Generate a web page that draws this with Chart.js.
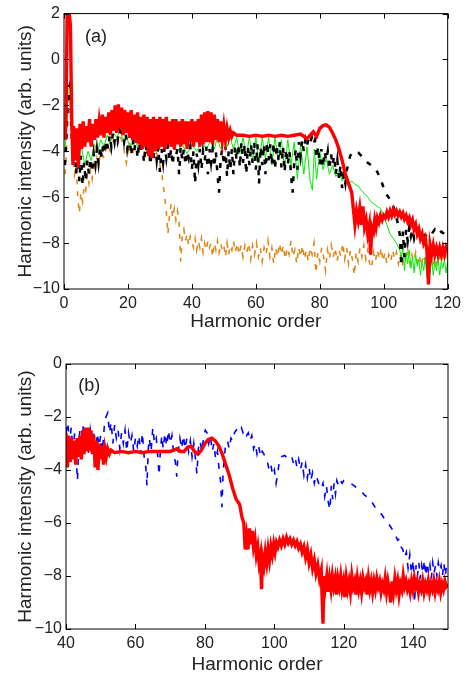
<!DOCTYPE html>
<html>
<head>
<meta charset="utf-8">
<script src="https://cdn.jsdelivr.net/npm/chart.js@4/dist/chart.umd.min.js"></script>
<style>
  body { margin: 0; background: #fff; }
  .panel { position: absolute; left: 0; }
</style>
</head>
<body>
<div class="panel" style="top:0"><canvas id="chartA" width="466" height="333"></canvas></div>
<div class="panel" style="top:333px"><canvas id="chartB" width="466" height="343"></canvas></div>
<script>
// panel (a): [harmonic order, log intensity]
var redA = [[0.3,-3.5],[0.6,-2.8],[1.0,2.2],[1.5,2.2],[2.0,1.5],[2.4,-2.5],[2.8,-4.6],[3,-2.9],[3.5,-4.4],[4,-3.0],[4.5,-4.7],[5,-2.8],[5.5,-3.9],[6,-2.7],[6.5,-3.8],[7,-2.9],[7.5,-3.6],[8,-2.6],[8.5,-3.8],[9,-2.8],[9.5,-3.5],[10,-2.6],[10.5,-3.4],[11,-2.7],[11.5,-3.3],[12,-2.4],[12.5,-3.4],[13,-2.5],[13.5,-3.2],[14,-2.3],[14.5,-3.3],[15,-2.2],[15.5,-3.1],[16,-2.0],[16.5,-3.2],[17,-1.95],[17.5,-3.0],[18,-2.1],[18.5,-3.3],[19,-2.2],[19.5,-3.2],[20,-2.3],[20.5,-3.4],[21,-2.2],[21.5,-3.5],[22,-2.4],[22.5,-3.6],[23,-2.3],[23.5,-3.7],[24,-2.5],[24.5,-3.9],[25,-2.4],[25.5,-3.8],[26,-2.5],[26.5,-4.2],[27,-2.6],[27.5,-4.3],[28,-2.5],[28.5,-4.0],[29,-2.6],[29.5,-3.9],[30,-2.5],[30.5,-3.8],[31,-2.6],[31.5,-3.9],[32,-2.5],[32.5,-3.7],[33,-2.7],[33.5,-3.8],[34,-2.6],[34.5,-3.9],[35,-2.6],[35.5,-3.7],[36,-2.7],[36.5,-3.8],[37,-2.6],[37.5,-3.7],[38,-2.7],[38.5,-3.9],[39,-2.7],[39.5,-3.6],[40,-2.6],[40.5,-3.8],[41,-2.7],[41.5,-3.6],[42,-2.6],[42.5,-3.8],[43,-2.4],[43.5,-3.7],[44,-2.3],[44.5,-3.6],[45,-2.25],[45.5,-3.6],[46,-2.3],[46.5,-3.7],[47,-2.4],[47.5,-3.5],[48,-2.6],[48.5,-3.6],[49,-2.7],[49.5,-3.5],[50,-2.9],[50.5,-3.5],[51,-3.0],[51.5,-3.4],[52,-3.1],[52.5,-3.35],[53,-3.2],[54,-3.3],[56,-3.3],[58,-3.35],[60,-3.3],[62,-3.35],[64,-3.3],[66,-3.35],[68,-3.3],[70,-3.35],[72,-3.3],[74,-3.25],[75,-3.35],[76,-3.45],[77,-3.3],[78,-3.15],[79,-3.35],[80,-3.0],[81,-2.88],[82,-2.85],[83,-2.95],[84,-3.2],[85,-3.5],[86,-3.9],[87,-4.4],[88,-5.0],[89,-5.4],[90,-5.8],[90.5,-6.5],[91,-7.2],[91.5,-6.6],[92,-7.0],[92.5,-6.5],[93,-7.2],[93.5,-6.4],[94,-7.3],[94.5,-7.0],[95,-7.6],[95.5,-7.2],[95.9,-8.5],[96.3,-7.3],[96.8,-7.5],[97.2,-7.0],[97.6,-7.3],[98,-6.9],[98.5,-7.1],[99,-6.8],[99.5,-7.0],[100,-6.8],[100.5,-6.9],[101,-6.65],[101.5,-6.85],[102,-6.6],[102.5,-6.8],[103,-6.55],[103.5,-6.75],[104,-6.6],[104.5,-6.8],[105,-6.65],[105.5,-6.85],[106,-6.7],[106.5,-6.95],[107,-6.8],[107.5,-7.05],[108,-6.9],[108.5,-7.2],[109,-7.0],[109.5,-7.4],[110,-7.2],[110.5,-7.6],[111,-7.4],[111.5,-7.8],[112,-7.6],[112.5,-8.0],[113,-7.8],[113.5,-8.3],[114,-9.8],[114.5,-8.1],[115,-8.5],[115.5,-8.1],[116,-8.5],[116.5,-8.2],[117,-8.5],[117.5,-8.2],[118,-8.5],[118.5,-8.2],[119,-8.5],[119.5,-8.2],[120,-8.4]];

var blackA = [[0.3,-4.6],[0.8,-3.2],[1.3,-1.3],[1.8,-1.1],[2.3,-3.0],[2.8,-4.4],[3.3,-3.6],[3.8,-5.0],[4.3,-3.9],[4.8,-5.3],[5.3,-4.2],[5.8,-5.5],[6.3,-4.5],[6.8,-5.3],[7.3,-4.4],[7.8,-5.0],[8.3,-4.3],[8.8,-4.9],[9.3,-4.1],[9.8,-4.6],[10.3,-3.9],[10.8,-4.5],[11.3,-3.8],[11.8,-4.3],[12.3,-3.6],[12.8,-4.1],[13.3,-3.5],[13.8,-3.9],[14.3,-3.3],[14.8,-3.8],[15.3,-3.2],[15.8,-3.6],[16.3,-3.0],[16.8,-3.5],[17.3,-3.0],[17.8,-3.4],[18.3,-3.1],[18.8,-3.6],[19.3,-3.2],[19.8,-3.9],[20.5,-3.3],[21,-4.2],[21.5,-3.5],[22,-4.0],[22.5,-3.4],[23,-4.3],[23.5,-3.6],[24,-4.1],[24.5,-3.5],[25,-4.5],[25.5,-3.7],[26,-4.2],[26.5,-3.6],[27,-4.6],[27.5,-3.8],[28,-4.3],[28.5,-3.7],[29,-4.4],[29.5,-3.8],[30,-4.9],[30.5,-3.9],[31,-4.5],[31.5,-3.8],[32,-4.3],[32.5,-3.7],[33,-4.4],[33.5,-3.9],[34,-4.6],[34.5,-3.8],[35,-4.2],[35.5,-3.9],[36,-5.0],[36.5,-3.8],[37,-4.4],[37.5,-3.9],[38,-4.6],[38.5,-4.0],[39,-4.3],[39.5,-3.8],[40,-4.8],[40.5,-4.0],[41,-5.4],[41.5,-4.1],[42,-4.6],[42.5,-3.9],[43,-4.8],[43.5,-4.0],[44,-4.4],[44.5,-3.8],[45,-5.0],[45.5,-3.9],[46,-4.5],[46.5,-3.9],[47,-4.7],[47.5,-4.0],[48,-5.0],[48.5,-5.8],[49,-4.3],[49.5,-3.9],[50,-4.6],[50.5,-3.8],[51,-5.1],[51.5,-4.0],[52,-4.8],[52.5,-3.9],[53,-5.0],[53.5,-3.8],[54,-4.4],[54.5,-3.7],[55,-4.7],[55.5,-3.6],[56,-4.5],[56.5,-3.7],[57,-5.0],[57.5,-3.8],[58,-4.6],[58.5,-3.7],[59,-4.5],[59.5,-3.6],[60,-4.8],[60.5,-3.7],[61,-5.4],[61.5,-3.8],[62,-4.6],[62.5,-3.7],[63,-5.0],[63.5,-3.6],[64,-4.4],[64.5,-3.7],[65,-4.6],[65.5,-3.6],[66,-4.8],[66.5,-3.7],[67,-4.4],[67.5,-3.6],[68,-4.7],[68.5,-3.8],[69,-4.9],[69.5,-3.9],[70,-4.6],[70.5,-4.0],[71,-5.0],[71.5,-5.8],[72,-4.5],[72.5,-3.9],[73,-4.8],[73.5,-3.6],[74,-4.2],[74.5,-3.5],[75,-4.0],[75.5,-3.5],[76,-3.8],[76.5,-3.4],[77,-3.6],[77.5,-3.4],[78,-3.7],[78.5,-3.5],[79,-4.3],[79.5,-3.8],[80,-4.6],[80.5,-3.9],[81,-4.7],[81.5,-4.0],[82,-4.4],[82.5,-4.0],[83,-4.8],[83.5,-4.1],[84,-4.6],[84.5,-4.2],[85,-5.0],[85.5,-4.4],[86,-5.2],[86.5,-4.6],[87,-5.6],[87.5,-5.0],[88,-5.4],[88.5,-4.8],[89,-4.5],[89.5,-4.2],[90,-4.1],[91,-4.0],[92,-4.05],[93,-4.2],[94,-4.35],[95,-4.5],[96,-4.6],[97,-4.7],[98,-4.9],[99,-5.2],[100,-5.6],[101,-5.9],[102,-6.1],[103,-6.4],[103.5,-6.6],[104,-6.9],[104.5,-7.2],[105,-7.6],[105.5,-9.0],[106,-7.5],[106.5,-8.6],[107,-7.4],[107.5,-7.9],[108,-7.3],[108.5,-7.7],[109,-7.4],[109.5,-7.8],[110,-7.5],[111,-7.6],[112,-7.4],[113,-7.7],[114,-7.5],[115,-7.6],[116,-7.4],[117,-7.6],[118,-7.5],[119,-7.6],[120,-7.4]];

var greenA = [[0.3,-4.0],[0.8,-3.0],[1.3,-1.3],[1.8,-1.2],[2.3,-2.8],[2.8,-4.0],[3.5,-3.6],[4.5,-4.3],[5.5,-3.8],[6.5,-4.6],[7.5,-4.0],[8.5,-4.4],[9.5,-3.7],[10.5,-4.0],[11.5,-3.5],[12.5,-3.8],[13.5,-3.3],[14.5,-3.6],[15.5,-3.2],[16.5,-3.4],[17.5,-3.1],[18.5,-3.5],[19.5,-3.3],[20.5,-3.8],[22,-3.5],[23.5,-3.9],[25,-3.6],[26.5,-4.1],[28,-3.7],[29.5,-4.0],[31,-3.6],[32.5,-3.9],[34,-3.6],[35.5,-4.0],[37,-3.7],[38.5,-4.1],[40,-3.7],[41.5,-4.0],[43,-3.6],[44.5,-3.9],[46,-3.5],[47,-3.9],[48,-3.4],[49,-3.9],[50,-3.4],[51,-3.8],[52,-3.4],[53,-3.9],[54,-3.4],[55,-4.1],[56,-3.4],[57,-4.2],[58,-3.4],[59,-4.4],[60,-3.4],[61,-4.5],[62,-3.4],[63,-4.3],[64,-3.4],[65,-4.6],[66,-3.4],[67,-4.4],[68,-3.5],[69,-4.8],[70,-3.5],[71,-4.6],[72,-3.6],[73,-5.2],[74,-3.7],[75,-5.0],[76,-3.8],[77,-5.3],[77.7,-5.7],[78.3,-3.9],[79,-5.2],[80,-4.0],[81,-4.8],[82,-4.3],[83,-5.0],[84,-4.6],[85,-5.1],[86,-4.9],[87,-5.3],[88,-5.1],[89,-5.4],[90,-5.3],[91,-5.45],[92,-5.5],[93,-5.7],[94,-5.85],[95,-6.0],[96,-6.2],[97,-6.3],[98,-6.4],[99,-6.5],[100,-6.8],[101,-7.2],[102,-7.6],[103,-7.8],[104,-8.0],[105,-8.3],[105.5,-8.6],[106,-8.2],[106.5,-9.2],[107,-8.4],[107.5,-8.9],[108,-8.3],[108.5,-9.1],[109,-8.6],[109.5,-9.3],[110,-8.5],[110.5,-9.0],[111,-8.7],[111.5,-9.4],[112,-8.8],[112.5,-9.2],[113,-8.6],[113.5,-9.5],[114,-8.9],[114.5,-9.3],[115,-8.7],[115.5,-9.4],[116,-8.8],[116.5,-9.2],[117,-8.6],[117.5,-9.4],[118,-8.8],[118.5,-9.1],[119,-8.7],[119.5,-9.3],[120,-8.8]];

var orangeA = [[0.3,-5.0],[0.8,-4.0],[1.3,-2.0],[1.8,-1.6],[2.3,-3.2],[2.8,-4.2],[3.3,-5.0],[3.8,-4.6],[4.3,-6.0],[4.8,-6.7],[5.3,-5.8],[5.8,-6.2],[6.3,-5.5],[6.8,-5.7],[7.3,-5.0],[7.8,-5.4],[8.3,-4.8],[8.8,-5.2],[9.3,-4.6],[9.8,-4.9],[10.3,-4.3],[10.8,-4.6],[11.5,-4.0],[12.5,-4.3],[13.5,-3.7],[14.5,-4.0],[15.5,-3.5],[16.5,-3.8],[17.5,-3.3],[18.5,-3.7],[19.5,-4.5],[20.5,-3.6],[21.5,-4.1],[22.5,-3.7],[23.5,-4.0],[24.5,-3.6],[25.5,-4.2],[26.5,-3.8],[27.5,-4.5],[28.5,-3.9],[29.5,-4.3],[30.5,-4.9],[31,-5.4],[31.5,-6.0],[32,-6.6],[32.5,-7.6],[33,-6.8],[33.5,-6.3],[34,-6.9],[34.5,-6.5],[35,-7.0],[35.5,-6.6],[36,-7.1],[36.5,-8.8],[37,-7.7],[37.5,-7.4],[38,-7.9],[38.5,-7.6],[39,-8.1],[39.5,-7.7],[40,-7.9],[40.5,-8.2],[41,-7.8],[41.5,-8.3],[42,-7.9],[42.5,-8.2],[43,-7.8],[43.5,-8.4],[44,-8.0],[44.5,-8.3],[45,-7.9],[45.5,-8.2],[46,-8.0],[46.5,-8.6],[47,-8.0],[47.5,-8.3],[48,-7.9],[48.5,-8.4],[49,-8.0],[49.5,-8.3],[50,-8.1],[50.5,-8.6],[51,-8.0],[51.5,-8.5],[52,-8.1],[52.5,-8.3],[53,-7.9],[53.6,-8.4],[54.2,-8.0],[54.8,-8.5],[55.4,-8.1],[56,-8.6],[56.6,-8.1],[57.2,-8.4],[57.8,-8.0],[58.4,-8.7],[59,-8.1],[59.6,-8.5],[60.2,-8.0],[60.8,-8.6],[61.4,-8.2],[62,-8.8],[62.6,-8.2],[63.2,-8.5],[63.8,-7.9],[64.4,-8.6],[65,-8.2],[65.6,-8.9],[66.2,-8.2],[66.8,-8.6],[67.4,-8.0],[68,-8.5],[68.6,-8.1],[69.2,-8.7],[69.8,-8.2],[70.4,-8.5],[71,-7.9],[71.6,-8.6],[72.2,-8.3],[72.8,-8.9],[73.4,-8.2],[74,-8.6],[74.6,-8.1],[75.2,-8.7],[75.8,-8.3],[76.4,-8.8],[77,-8.2],[77.6,-8.5],[78.2,-8.0],[78.8,-9.3],[79.4,-8.4],[80,-8.8],[80.6,-8.2],[81.2,-8.6],[81.8,-9.2],[82.4,-8.3],[83,-8.7],[83.6,-8.1],[84.2,-8.6],[84.8,-8.2],[85.4,-8.8],[86,-8.3],[86.6,-8.6],[87.2,-8.0],[87.8,-8.7],[88.4,-8.2],[89,-8.9],[89.6,-8.3],[90.2,-8.7],[90.8,-9.4],[91.4,-8.4],[92,-8.8],[92.6,-8.2],[93.2,-8.6],[93.8,-8.1],[94.4,-8.7],[95,-8.3],[95.6,-8.9],[96.2,-9.1],[96.8,-8.4],[97.4,-8.8],[98,-8.3],[98.6,-8.7],[99.2,-8.2],[99.8,-8.8],[100.4,-8.4],[101,-8.9],[101.6,-8.5],[102.2,-8.8],[102.8,-8.3],[103.4,-8.7],[104,-8.4],[104.6,-8.9],[105.2,-8.5],[105.8,-9.0],[106.4,-8.5],[107,-8.8],[107.6,-8.4],[108.2,-8.9],[108.8,-8.5],[109.4,-8.8],[110,-8.4],[110.6,-8.9],[111.2,-8.6],[111.8,-9.0],[112.4,-8.5],[113,-8.8],[113.6,-8.4],[114.2,-8.9],[114.8,-8.6],[115.4,-9.1],[116,-8.6],[116.6,-8.9],[117.2,-8.5],[117.8,-8.9],[118.4,-8.6],[119,-8.8],[119.6,-8.5],[120,-8.7]];

// panel (b)
var redB = [[40,-2.6],[40.4,-3.9],[40.8,-2.7],[41.2,-3.7],[41.6,-2.8],[42,-3.6],[42.4,-2.9],[42.8,-3.8],[43.2,-2.8],[43.6,-3.5],[44,-2.7],[44.4,-3.6],[44.8,-2.5],[45.2,-3.4],[45.6,-2.4],[46,-3.3],[46.4,-2.4],[46.8,-3.3],[47.2,-2.5],[47.6,-3.4],[48,-2.7],[48.4,-3.9],[48.8,-2.9],[49.2,-4.0],[49.6,-3.0],[50,-3.6],[50.4,-3.1],[50.8,-3.8],[51.2,-3.2],[51.6,-3.5],[52,-3.2],[52.5,-3.4],[53,-3.25],[54,-3.35],[56,-3.3],[58,-3.35],[60,-3.3],[62,-3.35],[64,-3.3],[66,-3.3],[68,-3.3],[70,-3.3],[72,-3.2],[73,-3.3],[74,-3.3],[75,-3.15],[76,-3.1],[77,-3.3],[78,-3.4],[79,-3.25],[80,-3.0],[81,-2.85],[82,-2.8],[83,-2.9],[84,-3.1],[85,-3.4],[86,-3.8],[87,-4.2],[88,-4.7],[89,-5.1],[90,-5.3],[90.7,-5.8],[91.2,-6.0],[91.6,-7.0],[92,-6.5],[92.4,-7.0],[92.8,-6.2],[93.2,-6.8],[93.6,-6.3],[94,-6.9],[94.4,-6.6],[94.8,-7.2],[95.2,-6.9],[95.6,-7.5],[96,-7.2],[96.3,-8.5],[96.6,-7.3],[97,-7.6],[97.4,-7.1],[97.8,-7.5],[98.2,-7.0],[98.6,-7.4],[99,-6.9],[99.4,-7.2],[99.8,-6.8],[100.2,-7.1],[100.6,-6.75],[101,-6.9],[101.5,-6.65],[102,-6.85],[102.5,-6.6],[103,-6.8],[103.5,-6.55],[104,-6.75],[104.5,-6.6],[105,-6.8],[105.5,-6.65],[106,-6.85],[106.5,-6.7],[107,-6.95],[107.5,-6.8],[108,-7.1],[108.5,-6.9],[109,-7.3],[109.5,-7.0],[110,-7.5],[110.5,-7.2],[111,-7.7],[111.5,-7.4],[112,-7.9],[112.5,-7.6],[113,-8.1],[113.5,-7.8],[114,-9.8],[114.3,-8.0],[114.7,-8.4],[115.1,-8.0],[115.5,-8.6],[115.9,-8.1],[116.3,-8.5],[116.7,-8.0],[117.1,-8.4],[117.5,-8.1],[117.9,-8.7],[118.3,-8.1],[118.7,-8.4],[119.1,-8.0],[119.5,-8.5],[119.9,-8.2],[120.3,-8.8],[120.7,-8.1],[121.1,-8.5],[121.5,-8.2],[121.9,-8.6],[122.3,-8.0],[122.7,-8.4],[123.1,-8.2],[123.5,-8.7],[123.9,-8.1],[124.3,-8.5],[124.7,-8.2],[125.1,-8.6],[125.5,-8.1],[125.9,-8.4],[126.3,-8.2],[126.7,-8.7],[127.1,-8.1],[127.5,-8.5],[127.9,-8.2],[128.3,-8.6],[128.7,-8.2],[129.1,-8.5],[129.5,-8.1],[129.9,-8.4],[130.3,-8.2],[130.7,-8.6],[131.1,-8.3],[131.5,-8.5],[131.9,-8.1],[132.3,-8.6],[132.7,-8.2],[133.1,-8.5],[133.5,-9.0],[133.9,-8.2],[134.3,-8.6],[134.7,-8.1],[135.1,-8.5],[135.5,-8.2],[135.9,-8.7],[136.3,-8.3],[136.7,-8.5],[137.1,-8.0],[137.5,-8.4],[137.9,-8.2],[138.3,-8.5],[138.7,-8.3],[139.1,-8.6],[139.5,-8.2],[139.9,-8.5],[140.3,-8.1],[140.7,-8.4],[141.1,-8.2],[141.5,-8.6],[141.9,-8.3],[142.3,-8.5],[142.7,-8.2],[143.1,-8.6],[143.5,-8.3],[143.9,-8.5],[144.3,-8.2],[144.7,-8.6],[145.1,-8.3],[145.5,-8.5],[145.9,-8.2],[146.3,-8.6],[146.7,-8.3],[147.1,-8.5],[147.5,-8.2],[147.9,-8.6],[148.3,-8.3],[148.7,-8.5],[149.1,-8.2],[149.5,-8.4],[150,-8.3]];

var blueB = [[40,-2.6],[40.5,-2.2],[41,-3.0],[41.5,-2.4],[42,-3.3],[42.5,-2.6],[43,-3.7],[43.3,-4.4],[43.7,-3.0],[44,-2.5],[44.5,-3.2],[45,-2.3],[45.5,-2.9],[46,-2.4],[46.5,-3.4],[47,-2.5],[47.5,-3.0],[48,-2.6],[48.5,-3.6],[49,-2.6],[49.5,-3.1],[50,-2.7],[50.5,-3.3],[51,-2.4],[51.5,-2.0],[52,-1.85],[52.5,-2.6],[53,-2.2],[53.5,-3.0],[54,-2.3],[54.5,-2.8],[55,-2.5],[55.5,-3.2],[56,-2.6],[56.5,-3.0],[57,-2.5],[57.5,-3.3],[58,-2.6],[58.5,-3.0],[59,-2.7],[59.5,-3.3],[60,-2.8],[60.5,-3.1],[61,-2.7],[61.5,-3.4],[62,-2.6],[62.5,-3.5],[63,-3.9],[63.3,-4.6],[63.7,-3.2],[64,-2.8],[64.5,-3.3],[65,-2.4],[65.5,-3.0],[66,-2.8],[66.5,-3.6],[66.8,-4.2],[67.2,-3.2],[67.6,-2.7],[68,-3.2],[68.5,-2.6],[69,-3.1],[69.5,-2.5],[70,-3.0],[70.5,-2.7],[71,-3.4],[71.5,-3.7],[71.9,-4.25],[72.3,-3.3],[72.8,-2.8],[73.3,-3.2],[73.8,-2.7],[74.3,-3.2],[74.8,-2.8],[75.3,-3.3],[75.8,-2.9],[76.3,-3.5],[76.8,-3.0],[77.3,-3.6],[77.7,-4.15],[78.1,-3.2],[78.6,-2.9],[79.1,-3.3],[79.6,-2.8],[80.1,-2.5],[80.6,-2.6],[81.1,-3.0],[81.6,-2.7],[82.1,-3.3],[82.6,-3.0],[83.1,-3.6],[83.6,-3.3],[84.1,-4.0],[84.5,-4.4],[84.9,-5.4],[85.2,-4.2],[85.6,-3.5],[86,-3.0],[86.5,-2.9],[87,-3.2],[87.5,-2.8],[88,-2.9],[88.5,-2.6],[89,-2.5],[89.5,-2.4],[90,-2.5],[90.5,-2.4],[91,-2.6],[91.5,-2.5],[92,-2.7],[92.5,-2.6],[93,-2.9],[93.5,-2.7],[94,-3.2],[94.5,-3.0],[95,-3.4],[95.5,-3.1],[96,-3.5],[96.5,-3.3],[97,-3.4],[97.5,-3.6],[98,-3.7],[98.5,-4.0],[99,-3.8],[99.5,-4.2],[100,-4.0],[100.5,-4.5],[101,-4.1],[101.5,-3.6],[102,-3.5],[103,-3.45],[104,-3.6],[105,-3.5],[105.5,-3.75],[106,-3.55],[106.5,-3.9],[107,-3.6],[107.5,-4.0],[108,-3.7],[108.5,-4.2],[109,-3.8],[109.5,-4.3],[110,-3.9],[110.5,-4.4],[111,-4.1],[111.5,-4.5],[112,-4.2],[112.5,-4.4],[113,-4.6],[113.5,-4.7],[114,-4.5],[114.5,-5.0],[115,-4.6],[115.5,-5.2],[116,-5.5],[116.4,-4.6],[116.8,-5.1],[117.2,-4.5],[117.6,-4.9],[118,-4.4],[118.5,-4.6],[119,-4.4],[119.5,-4.5],[120,-4.4],[121,-4.45],[122,-4.5],[123,-4.6],[124,-4.7],[125,-4.8],[126,-4.95],[127,-5.05],[128,-5.2],[129,-5.4],[130,-5.5],[131,-5.7],[132,-5.9],[133,-6.05],[134,-6.25],[134.5,-6.4],[135,-6.5],[135.5,-6.65],[136,-6.6],[136.5,-6.9],[137,-7.0],[137.5,-7.3],[138,-7.1],[138.5,-7.7],[139,-7.2],[139.5,-7.9],[140,-7.4],[140.4,-9.0],[140.8,-7.6],[141.2,-8.0],[141.6,-7.5],[142,-8.1],[142.4,-7.6],[142.8,-7.9],[143.2,-7.4],[143.6,-8.0],[144,-7.5],[144.4,-7.9],[144.8,-7.6],[145.2,-8.1],[145.6,-7.5],[146,-7.9],[146.4,-7.6],[146.8,-8.0],[147.2,-7.5],[147.6,-7.8],[148,-7.6],[148.4,-8.0],[148.8,-7.5],[149.2,-8.0],[149.6,-7.6],[150,-7.8]];

var xTicksA = [0, 20, 40, 60, 80, 100, 120];
var yTicksA = [2, 0, -2, -4, -6, -8, -10];
var xTicksB = [40, 60, 80, 100, 120, 140];
var yTicksB = [0, -2, -4, -6, -8, -10];

var txt = "#222";
var tickFont = { family: "'Liberation Sans', Arial, sans-serif", size: 16 };
var titleFont = { family: "'Liberation Sans', Arial, sans-serif", size: 19 };

function pts(arr) {
  return arr.map(function (p) { return { x: p[0], y: p[1] }; });
}
function minus(v) {
  return String(v).replace("-", "\u2212");
}

// box + inward tick marks, MATLAB style
var frame = {
  id: "frame",
  afterDraw: function (chart) {
    var c = chart.ctx, a = chart.chartArea, sx = chart.scales.x, sy = chart.scales.y;
    c.save();
    c.strokeStyle = "#000";
    c.lineWidth = 1;
    c.strokeRect(a.left, a.top, a.right - a.left, a.bottom - a.top);
    c.beginPath();
    sx.ticks.forEach(function (t) {
      var px = Math.round(sx.getPixelForValue(t.value)) + 0.5;
      c.moveTo(px, a.bottom); c.lineTo(px, a.bottom - 5);
      c.moveTo(px, a.top); c.lineTo(px, a.top + 5);
    });
    sy.ticks.forEach(function (t) {
      var py = Math.round(sy.getPixelForValue(t.value)) + 0.5;
      c.moveTo(a.left, py); c.lineTo(a.left + 5, py);
      c.moveTo(a.right, py); c.lineTo(a.right - 5, py);
    });
    c.stroke();
    var lab = chart.options.plugins.frame;
    c.fillStyle = txt;
    c.font = "18px 'Liberation Sans', Arial, sans-serif";
    c.textAlign = "center";
    c.textBaseline = "middle";
    c.fillText(lab.text, sx.getPixelForValue(lab.x), sy.getPixelForValue(lab.y));
    c.restore();
  }
};

function makeChart(id, datasets, cfg) {
  return new Chart(document.getElementById(id), {
    type: "line",
    data: { datasets: datasets },
    plugins: [frame],
    options: {
      responsive: false,
      animation: false,
      layout: { padding: cfg.padding },
      elements: { point: { radius: 0 }, line: { tension: 0 } },
      plugins: {
        legend: { display: false },
        tooltip: { enabled: false },
        frame: cfg.label
      },
      scales: {
        x: {
          type: "linear",
          min: cfg.xmin,
          max: cfg.xmax,
          grid: { display: false, drawTicks: false },
          border: { display: false },
          afterFit: function (s) { s.height = cfg.xh; },
          afterBuildTicks: function (s) { s.ticks = cfg.xticks.map(function (v) { return { value: v }; }); },
          ticks: { color: txt, font: tickFont, padding: 5, maxRotation: 0 },
          title: { display: true, text: "Harmonic order", color: txt, font: titleFont, padding: { top: 0, bottom: 0 } }
        },
        y: {
          min: cfg.ymin,
          max: cfg.ymax,
          grid: { display: false, drawTicks: false },
          border: { display: false },
          afterFit: function (s) { s.width = cfg.yw; },
          afterBuildTicks: function (s) { s.ticks = cfg.yticks.map(function (v) { return { value: v }; }); },
          ticks: { color: txt, font: tickFont, padding: 4, callback: minus },
          title: { display: true, text: "Harmonic intensity (arb. units)", color: txt, font: titleFont, padding: { top: 14, bottom: 0 } }
        }
      }
    }
  });
}

makeChart("chartA", [
  { data: pts(redA), borderColor: "#ff0000", borderWidth: 3.4 },
  { data: pts(blackA), borderColor: "#000000", borderWidth: 2.5, borderDash: [5, 8] },
  { data: pts(greenA), borderColor: "#00ee00", borderWidth: 1 },
  { data: pts(orangeA), borderColor: "#e0871a", borderWidth: 1.6, borderDash: [5, 7] }
], {
  padding: { top: 12, right: 17, left: 0, bottom: 0 },
  xmin: 0, xmax: 120, ymin: -10, ymax: 2, xh: 44, yw: 64,
  xticks: xTicksA, yticks: yTicksA,
  label: { text: "(a)", x: 10, y: 1.0 }
});

makeChart("chartB", [
  { data: pts(redB), borderColor: "#ff0000", borderWidth: 3.4 },
  { data: pts(blueB), borderColor: "#0000ff", borderWidth: 1.6, borderDash: [6, 8] }
], {
  padding: { top: 31, right: 18, left: 0, bottom: 0 },
  xmin: 40, xmax: 150, ymin: -10, ymax: 0, xh: 47, yw: 66,
  xticks: xTicksB, yticks: yTicksB,
  label: { text: "(b)", x: 46.7, y: -0.83 }
});
</script>
